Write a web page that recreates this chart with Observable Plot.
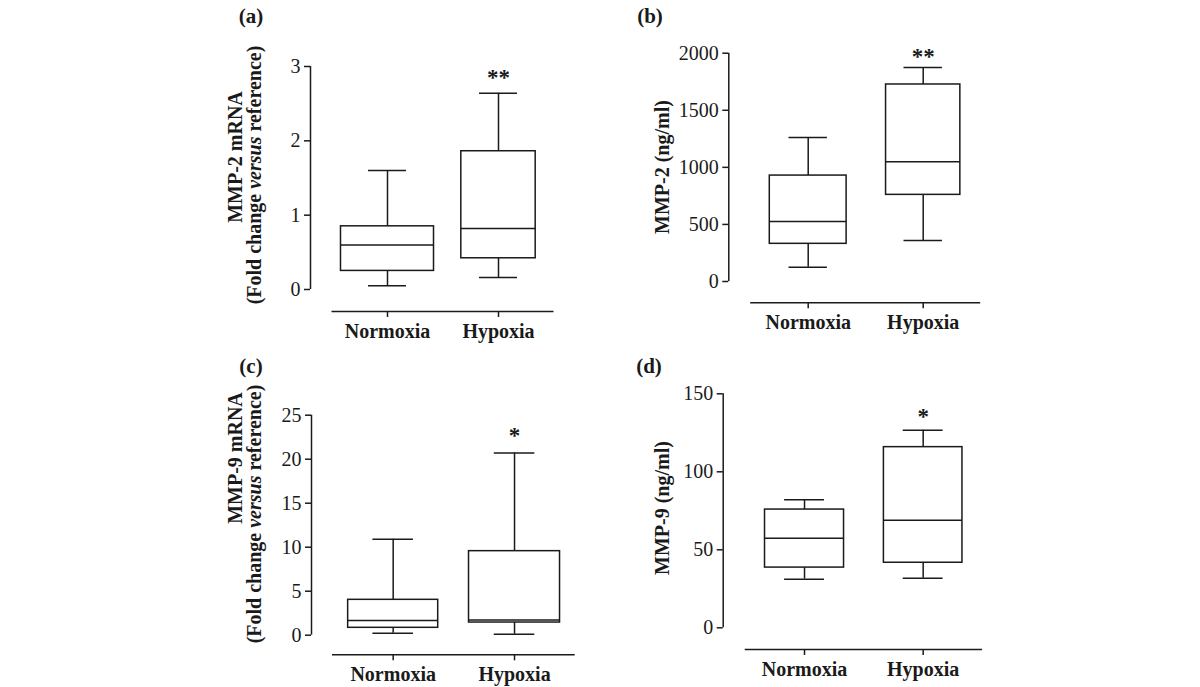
<!DOCTYPE html>
<html><head><meta charset="utf-8">
<script src="https://cdn.jsdelivr.net/npm/d3@7"></script>
<script src="https://cdn.jsdelivr.net/npm/@observablehq/plot@0.6"></script>
<style>
html,body{margin:0;padding:0;background:#fff;}
#root{position:relative;width:1200px;height:687px;overflow:hidden;background:#fff;}
.panel{position:absolute;}
#overlay{position:absolute;left:0;top:0;pointer-events:none;}
</style></head><body><div id="root"></div>
<script>
const categories = ["Normoxia", "Hypoxia"];

// (a) MMP-2 mRNA (fold change versus reference)
const aMin = [0.05, 0.16];
const aQ1 = [0.25, 0.42];
const aMedian = [0.60, 0.82];
const aQ3 = [0.85, 1.86];
const aMax = [1.60, 2.64];
const aTicks = [0, 1, 2, 3];
const aSig = ["", "**"];

// (b) MMP-2 (ng/ml)
const bMin = [125, 359];
const bQ1 = [330, 759];
const bMedian = [525, 1048];
const bQ3 = [928, 1726];
const bMax = [1261, 1875];
const bTicks = [0, 500, 1000, 1500, 2000];
const bSig = ["", "**"];

// (c) MMP-9 mRNA (fold change versus reference)
const cMin = [0.23, 0.11];
const cQ1 = [0.84, 1.44];
const cMedian = [1.67, 1.72];
const cQ3 = [4.02, 9.55];
const cMax = [10.9, 20.7];
const cTicks = [0, 5, 10, 15, 20, 25];
const cSig = ["", "*"];

// (d) MMP-9 (ng/ml)
const dMin = [31.2, 31.8];
const dQ1 = [38.6, 41.7];
const dMedian = [57.4, 69.0];
const dQ3 = [75.8, 115.8];
const dMax = [82.1, 126.7];
const dTicks = [0, 50, 100, 150];
const dSig = ["", "*"];

const INK = "#1a1a1a";
const SERIF = "'Liberation Serif','Times New Roman',serif";
const root = document.getElementById("root");

function panel(cfg) {
  const rows = categories.map((c, i) => ({
    cat: c, pos: i + 0.5,
    min: cfg.min[i], q1: cfg.q1[i], median: cfg.median[i], q3: cfg.q3[i], max: cfg.max[i],
    half: cfg.boxHalf[i], sig: cfg.sig[i]
  }));
  const cap = cfg.capHalf;
  const n = categories.length;
  const lw = 1.5;
  const svg = Plot.plot({
    width: cfg.W, height: cfg.H,
    marginLeft: cfg.ml, marginRight: cfg.mr, marginTop: cfg.mt, marginBottom: cfg.mb,
    x: {domain: [0, n], insetLeft: cfg.il, insetRight: 0},
    y: {domain: [cfg.ticks[0], cfg.ticks[cfg.ticks.length - 1]], insetBottom: cfg.ib, insetTop: 0},
    style: {fontFamily: SERIF, fontSize: "20px", color: INK, background: "transparent", overflow: "visible"},
    marks: [
      Plot.ruleX([0], {y1: cfg.ticks[0], y2: cfg.ticks[cfg.ticks.length - 1], dx: -cfg.il, stroke: INK, strokeWidth: lw}),
      Plot.ruleY([cfg.ticks[0]], {x1: 0, x2: n, dy: cfg.ib, stroke: INK, strokeWidth: lw}),
      Plot.axisY(cfg.ticks, {tickSize: 6, tickPadding: 4, fontSize: 20, label: null, strokeWidth: lw,
        tickFormat: d => String(d)}),
      Plot.axisX(rows.map(r => r.pos), {tickSize: 6, tickPadding: 6, fontSize: 20, fontWeight: "bold", label: null, strokeWidth: lw,
        tickFormat: d => categories[Math.floor(d)]}),
      Plot.ruleX(rows, {x: "pos", y1: "min", y2: "q1", stroke: INK, strokeWidth: lw}),
      Plot.ruleX(rows, {x: "pos", y1: "q3", y2: "max", stroke: INK, strokeWidth: lw}),
      Plot.ruleY(rows, {x1: d => d.pos - cap, x2: d => d.pos + cap, y: "min", stroke: INK, strokeWidth: lw}),
      Plot.ruleY(rows, {x1: d => d.pos - cap, x2: d => d.pos + cap, y: "max", stroke: INK, strokeWidth: lw}),
      Plot.rect(rows, {x1: d => d.pos - d.half, x2: d => d.pos + d.half, y1: "q1", y2: "q3", fill: "white", stroke: INK, strokeWidth: lw}),
      Plot.ruleY(rows, {x1: d => d.pos - d.half, x2: d => d.pos + d.half, y: "median", stroke: INK, strokeWidth: lw}),
      Plot.text(rows, {x: "pos", y: "max", text: "sig", dy: -cfg.sigDy, fontSize: 23, fontWeight: "bold", lineAnchor: "bottom", fill: INK})
    ]
  });
  const div = document.createElement("div");
  div.className = "panel";
  div.style.left = cfg.left + "px";
  div.style.top = cfg.top + "px";
  div.appendChild(svg);
  root.appendChild(div);
}

panel({left: 0, top: 0, W: 600, H: 344, ml: 310, mr: 46.5, mt: 66, mb: 33, il: 21.5, ib: 22,
  ticks: aTicks, min: aMin, q1: aQ1, median: aMedian, q3: aQ3, max: aMax, sig: aSig,
  boxHalf: [0.419, 0.335], capHalf: 0.171, sigDy: 8});
panel({left: 600, top: 0, W: 600, H: 344, ml: 128.3, mr: 219.8, mt: 52.7, mb: 41.7, il: 21.9, ib: 21.3,
  ticks: bTicks, min: bMin, q1: bQ1, median: bMedian, q3: bQ3, max: bMax, sig: bSig,
  boxHalf: [0.334, 0.323], capHalf: 0.167, sigDy: 3});
panel({left: 0, top: 344, W: 600, H: 343, ml: 311, mr: 25.3, mt: 70.7, mb: 32.7, il: 21, ib: 19.6,
  ticks: cTicks, min: cMin, q1: cQ1, median: cMedian, q3: cQ3, max: cMax, sig: cSig,
  boxHalf: [0.371, 0.375], capHalf: 0.167, sigDy: 10});
panel({left: 600, top: 344, W: 600, H: 343, ml: 122.7, mr: 218, mt: 49.3, mb: 38, il: 22, ib: 21.7,
  ticks: dTicks, min: dMin, q1: dQ1, median: dMedian, q3: dQ3, max: dMax, sig: dSig,
  boxHalf: [0.333, 0.331], capHalf: 0.168, sigDy: 6});

// Overlay texts: panel letters and y-axis titles
const overlay = d3.select(root).append("svg").attr("id", "overlay").attr("width", 1200).attr("height", 687)
  .style("font-family", SERIF).style("fill", INK);

const letters = [
  {t: "(a)", x: 251, y: 23}, {t: "(b)", x: 650, y: 23},
  {t: "(c)", x: 251, y: 373}, {t: "(d)", x: 649, y: 373}
];
letters.forEach(l => overlay.append("text").attr("x", l.x).attr("y", l.y).attr("text-anchor", "middle")
  .attr("font-weight", "bold").attr("font-size", 21).text(l.t));

function rotLabel(x, y, parts, size) {
  const t = overlay.append("text").attr("transform", `translate(${x},${y}) rotate(-90)`)
    .attr("text-anchor", "middle").attr("font-weight", "bold").attr("font-size", size);
  parts.forEach(p => t.append("tspan").attr("font-style", p.i ? "italic" : null).text(p.s));
}
const foldParts = [{s: "(Fold change "}, {s: "versus", i: true}, {s: " reference)"}];
rotLabel(242, 157, [{s: "MMP-2 mRNA"}], 20);
rotLabel(261, 175, foldParts, 20);
rotLabel(669, 167, [{s: "MMP-2 (ng/ml)"}], 20);
rotLabel(242, 458, [{s: "MMP-9 mRNA"}], 20);
rotLabel(261, 514, foldParts, 20);
rotLabel(669, 508, [{s: "MMP-9 (ng/ml)"}], 20);
</script></body></html>
